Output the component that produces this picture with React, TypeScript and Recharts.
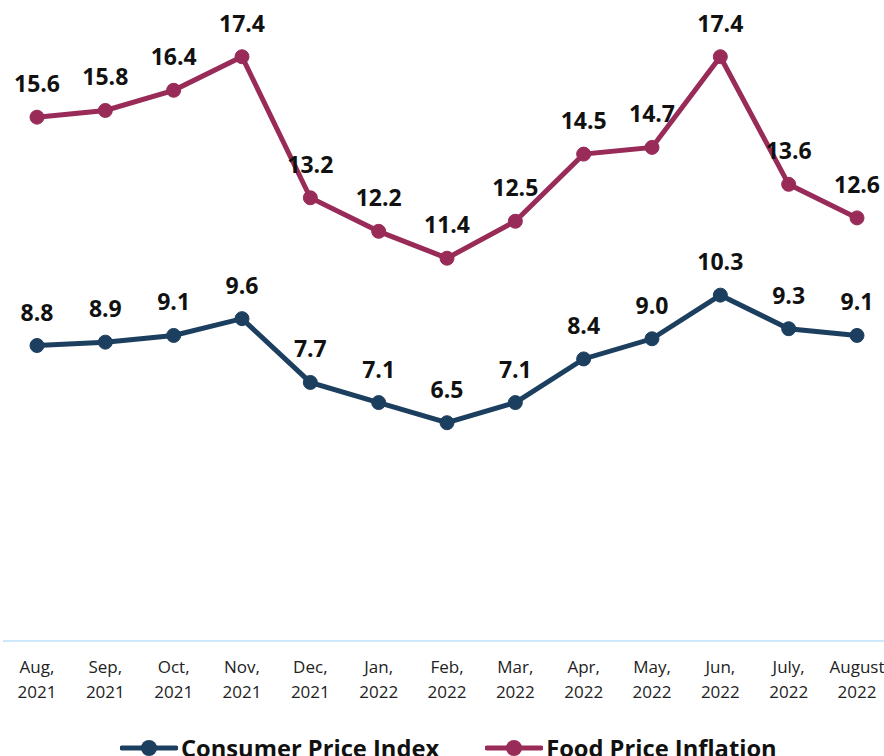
import { LineChart, Line, XAxis, YAxis, LabelList } from 'recharts'

const MONTHS = ['Aug,', 'Sep,', 'Oct,', 'Nov,', 'Dec,', 'Jan,', 'Feb,', 'Mar,', 'Apr,', 'May,', 'Jun,', 'July,', 'August']
const YEARS = ['2021', '2021', '2021', '2021', '2021', '2022', '2022', '2022', '2022', '2022', '2022', '2022', '2022']
const CPI = [8.8, 8.9, 9.1, 9.6, 7.7, 7.1, 6.5, 7.1, 8.4, 9.0, 10.3, 9.3, 9.1]
const FOOD = [15.6, 15.8, 16.4, 17.4, 13.2, 12.2, 11.4, 12.5, 14.5, 14.7, 17.4, 13.6, 12.6]

const CPI_COLOR = '#1d3f5f'
const FOOD_COLOR = '#982b58'
const FONT = '"Open Sans", sans-serif'

const data = MONTHS.map((m, i) => ({
  label: `${m}|${YEARS[i]}`,
  cpi: CPI[i],
  food: FOOD[i],
}))

function MonthTick(props: any) {
  const { x, y, payload } = props
  const [m, yr] = String(payload.value).split('|')
  return (
    <text x={x} y={y} textAnchor="middle" fill="#222" fontSize={17} fontFamily={FONT}>
      <tspan x={x} dy={24}>{m}</tspan>
      <tspan x={x} dy={25}>{yr}</tspan>
    </text>
  )
}

function LegendItem({ color, text }: { color: string; text: string }) {
  return (
    <div style={{ display: 'flex', alignItems: 'center' }}>
      <svg width={58} height={18} style={{ marginRight: 3 }}>
        <line x1={2} y1={9} x2={56} y2={9} stroke={color} strokeWidth={5} strokeLinecap="round" />
        <circle cx={29} cy={9} r={8} fill={color} />
      </svg>
      <span style={{ fontWeight: 700, fontSize: 23.7, color: '#111', whiteSpace: 'nowrap' }}>{text}</span>
    </div>
  )
}

export default function App() {
  const fmt = (v: any) => Number(v).toFixed(1)
  return (
    <div style={{ position: 'absolute', left: 0, top: 0, width: 884, height: 756, overflow: 'hidden', fontFamily: FONT }}>
      <LineChart width={884} height={756} data={data} margin={{ top: 3, right: 0, left: 3, bottom: 55 }}>
        <XAxis
          dataKey="label"
          interval={0}
          height={60}
          padding={{ left: 34, right: 27 }}
          axisLine={{ stroke: '#cde8f8', strokeWidth: 2 }}
          tickLine={false}
          tick={<MonthTick />}
        />
        <YAxis hide domain={[0, 19]} />
        <Line
          dataKey="food"
          stroke={FOOD_COLOR}
          strokeWidth={5}
          dot={{ r: 7, fill: FOOD_COLOR, stroke: FOOD_COLOR, strokeWidth: 1 }}
          isAnimationActive={false}
        >
          <LabelList dataKey="food" position="top" offset={25} formatter={fmt} fill="#111" fontSize={23} fontWeight={700} fontFamily={FONT} />
        </Line>
        <Line
          dataKey="cpi"
          stroke={CPI_COLOR}
          strokeWidth={5}
          dot={{ r: 7, fill: CPI_COLOR, stroke: CPI_COLOR, strokeWidth: 1 }}
          isAnimationActive={false}
        >
          <LabelList dataKey="cpi" position="top" offset={25} formatter={fmt} fill="#111" fontSize={23} fontWeight={700} fontFamily={FONT} />
        </Line>
      </LineChart>
      <div style={{ position: 'absolute', left: 120, top: 732, display: 'flex', gap: 46 }}>
        <LegendItem color={CPI_COLOR} text="Consumer Price Index" />
        <LegendItem color={FOOD_COLOR} text="Food Price Inflation" />
      </div>
    </div>
  )
}
